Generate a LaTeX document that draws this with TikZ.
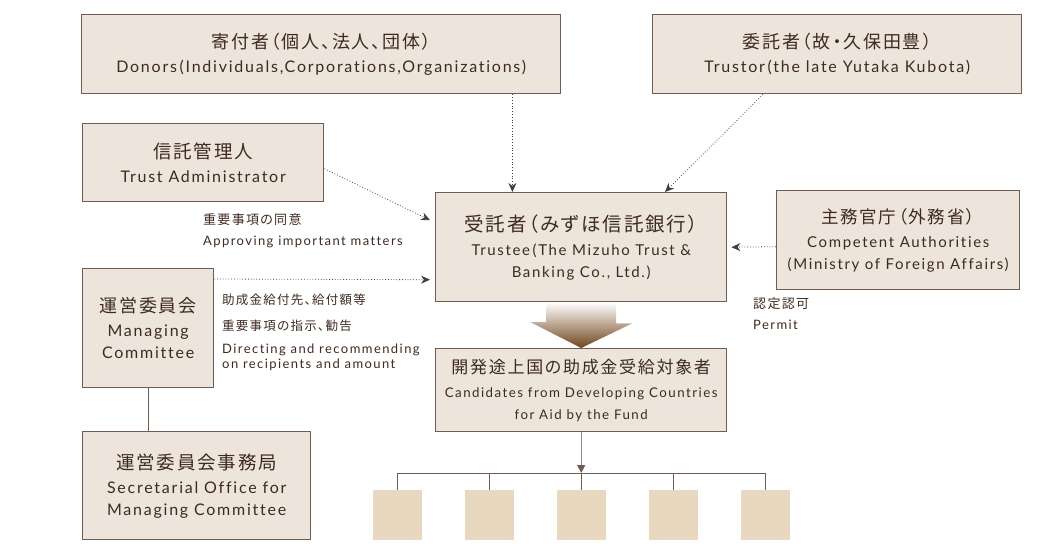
\documentclass[tikz,border=0pt]{standalone}
\usepackage{fontspec}
\setmainfont{Lato}[LetterSpace=11, Ligatures=NoCommon]
\newfontfamily\jp{Noto Sans CJK JP}[RawFeature=+palt,LetterSpace=10]
\usepackage{tikz}
\usetikzlibrary{arrows.meta, positioning, calc}

\definecolor{boxfill}{RGB}{237,229,220}
\definecolor{boxline}{RGB}{112,92,82}
\definecolor{ink}{RGB}{62,42,32}
\definecolor{leaffill}{RGB}{232,216,192}
\definecolor{arrowbrown}{RGB}{112,68,28}
\definecolor{stemgray}{RGB}{150,138,132}

\newcommand{\jtitle}[2][18]{{\jp\fontsize{#1}{24}\selectfont #2}\\[2pt]}

\begin{document}
\begin{tikzpicture}[
    x=1pt, y=-1pt,
    block/.style={rectangle, draw=boxline, line width=1.4pt, fill=boxfill, anchor=north west, inner sep=0pt, align=center, text=ink, font=\fontsize{16}{22}\selectfont},
    leaf/.style={rectangle, fill=leaffill, anchor=north west, minimum width=49pt, minimum height=50pt, inner sep=0pt},
    note/.style={anchor=north west, inner sep=0pt, align=left, text=ink, font=\fontsize{13}{15}\selectfont},
    darr/.style={-{Stealth[length=9pt, width=8pt]}, dotted, line width=0.8pt, draw=black!75},
    tline/.style={draw=boxline, line width=1pt},
]
\useasboundingbox (0,0) rectangle (1048,550);

% ---- top row ----
\node[block, minimum width=479pt, minimum height=79pt] (donors) at (81,14) {\jtitle{寄付者（個人、法人、団体）}Donors\,(Individuals,Corporations,Organizations)};
\node[block, minimum width=369pt, minimum height=79pt] (trustor) at (652,14) {\jtitle{委託者（故・久保田豊）}Trustor\,(the late Yutaka Kubota)};

% ---- middle ----
\node[block, minimum width=241pt, minimum height=78pt] (tadmin) at (82,123) {\jtitle[18.5]{信託管理人}Trust Administrator};
\node[block, minimum width=291pt, minimum height=109pt, font=\fontsize{15}{22}\selectfont] (trustee) at (435,192) {\jtitle[19.5]{受託者（みずほ信託銀行）}Trustee\,(The Mizuho Trust \&\\Banking Co., Ltd.)};
\node[block, minimum width=243pt, minimum height=99pt, font=\fontsize{15}{22}\selectfont] (auth) at (776,190) {\jtitle[17.5]{主務官庁（外務省）}Competent Authorities\\(Ministry of Foreign Affairs)};
\node[block, minimum width=131pt, minimum height=119pt] (mgr) at (82,268) {\jtitle{運営委員会}Managing\\Committee};
\node[block, minimum width=228pt, minimum height=108pt] (sec) at (82,431) {\jtitle[18.5]{運営委員会事務局}Secretarial Office for\\Managing Committee};
\node[block, minimum width=291pt, minimum height=83pt, font=\fontsize{13.3}{22}\selectfont] (cand) at (435,348) {\jtitle[17]{開発途上国の助成金受給対象者}Candidates from Developing Countries\\for Aid by the Fund};

% ---- labels ----
\node[note] (agree) at (203,213) {{\jp\fontsize{13}{15}\selectfont 重要事項の同意}\\[6pt]Approving important matters};
\node[note] (direct) at (222,294) {{\jp\fontsize{12.5}{15}\selectfont 助成金給付先、給付額等}\\[11pt]{\jp\fontsize{12.5}{15}\selectfont 重要事項の指示、勧告}\\[8pt]Directing and recommending\\on recipients and amount};
\node[note] (permit) at (753,297) {{\jp\fontsize{13}{15}\selectfont 認定認可}\\[6pt]Permit};

% ---- dotted arrows ----
\coordinate (dfoot) at ($(donors.south east)+(-49,0)$);
\draw[darr] (dfoot) -- (dfoot |- trustee.north);
\draw[darr] ([xshift=111pt]trustor.south west) -- ([xshift=230pt]trustee.north west);
\draw[darr] ([yshift=-6pt]tadmin.east) -- ([xshift=-5pt,yshift=27pt]trustee.west);
\draw[darr] ([yshift=-11pt]mgr.north east) -- ([xshift=-5pt,yshift=-32.5pt]trustee.west);
\draw[darr] ([yshift=-6.5pt]auth.west) -- ([xshift=4pt]trustee.east);

\draw[tline] (mgr.south) -- (sec.north -| mgr.south);

% ---- big arrow ----
\shade[top color=white, bottom color=arrowbrown] ([xshift=-35pt]trustee.south) -- ++(70,0) -- ++(0,21) -- ++(16,0) -- (cand.north) -- ++(-51,-26) -- ++(16,0) -- cycle;

% ---- recipients ----
\foreach \i/\x in {1/373, 2/465, 3/557, 4/649, 5/741}
  \node[leaf] (leaf\i) at (\x,490) {};

\coordinate (bus) at ($(leaf3.north)+(0,-17)$);
\draw[tline] (leaf1.north) |- (bus) -| (leaf5.north);
\foreach \i in {2,3,4}
  \draw[tline] (leaf\i.north) -- ++(0,-17);
\draw[draw=stemgray, line width=1.2pt, -{Triangle[length=8pt, width=8pt, color=boxline]}] (cand.south) -- (cand.south |- bus);

\end{tikzpicture}
\end{document}
